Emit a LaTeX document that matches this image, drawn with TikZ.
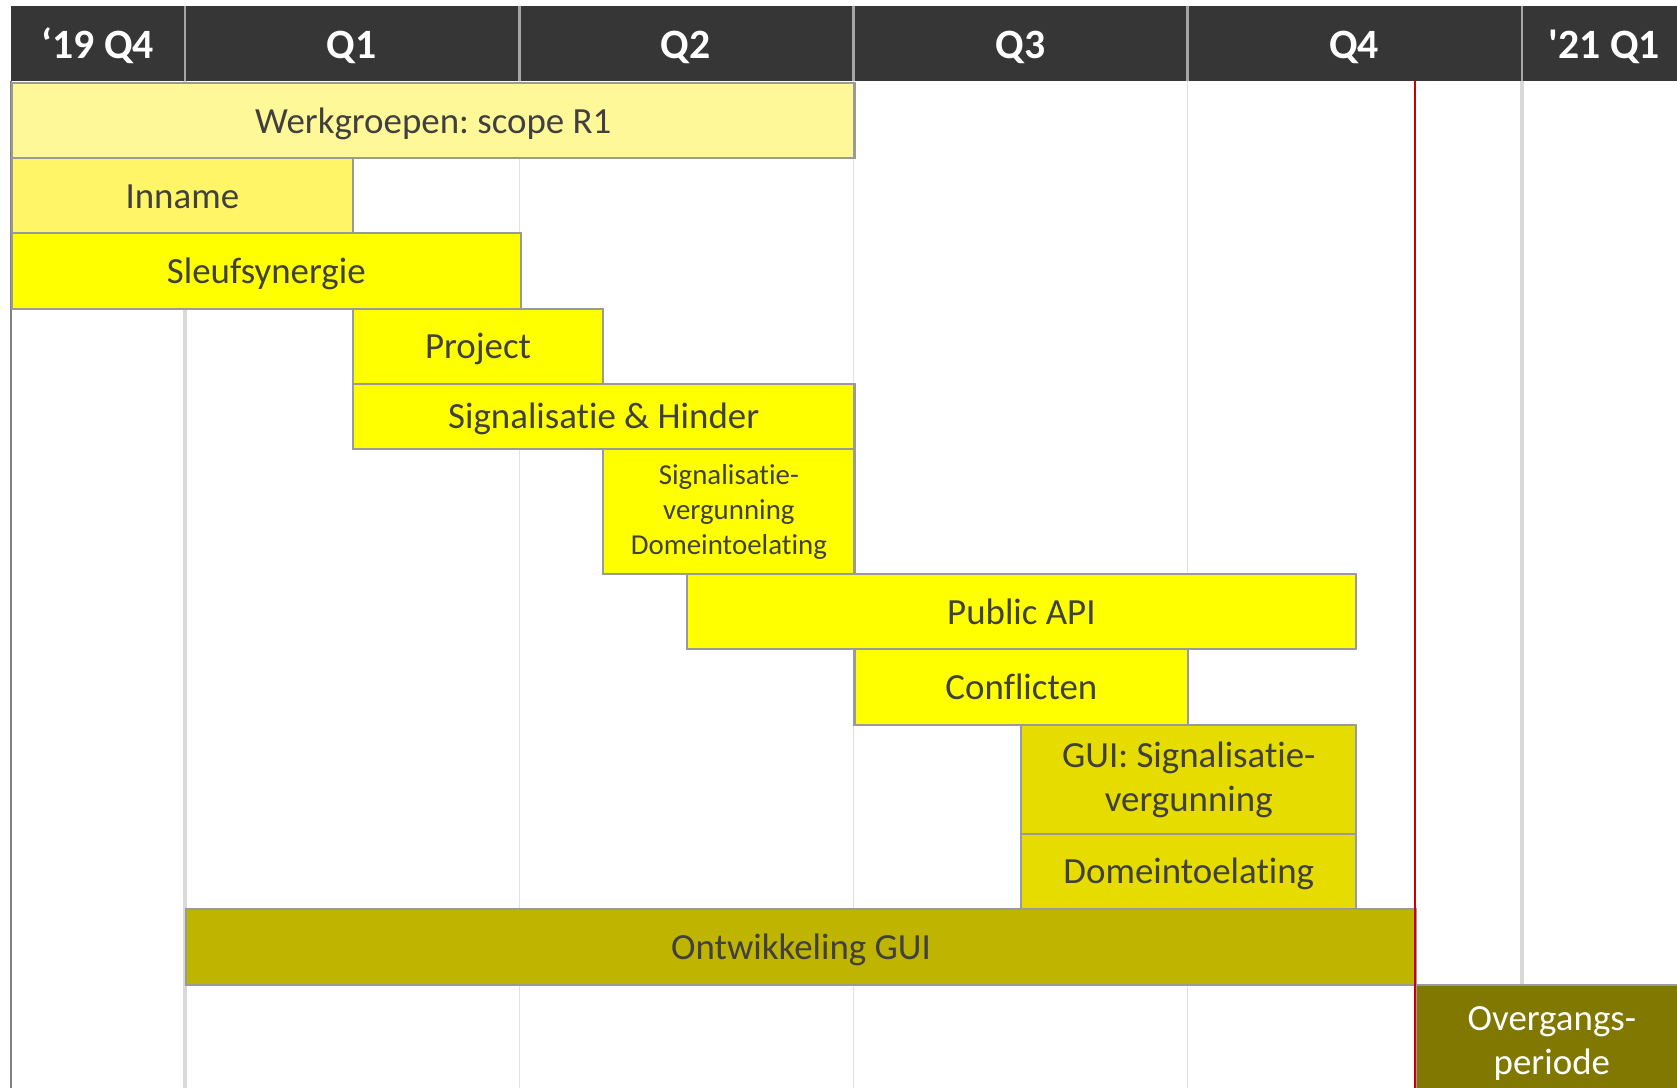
\documentclass[tikz,border=0pt]{standalone}
\usepackage{fontspec}
\setmainfont{Carlito}[Ligatures={TeX,NoCommon,NoContextual},Contextuals={NoAlternate}]
\frenchspacing
\definecolor{hdr}{HTML}{363636}
\definecolor{txt}{HTML}{404040}
\definecolor{yla}{HTML}{FFF899}
\definecolor{ylb}{HTML}{FFF566}
\definecolor{ylc}{HTML}{FFFF00}
\definecolor{yld}{HTML}{E6DC00}
\definecolor{ola}{HTML}{BFB400}
\definecolor{olb}{HTML}{807800}
\definecolor{edgec}{HTML}{9A9A9A}
\definecolor{gridc}{HTML}{D9D9D9}
\definecolor{hdrdivc}{HTML}{A6A6A6}
\definecolor{redl}{HTML}{C80000}
\begin{document}
\begin{tikzpicture}[x=1pt,y=-1pt,
  taskbar/.style={draw=edgec, line width=2pt, inner sep=0pt, anchor=north west,
    text=txt, font=\fontsize{34.5}{41}\selectfont, align=center},
  oneline/.style={text height=23pt, text depth=0pt},
  smalltxt/.style={font=\fontsize{27}{33}\selectfont},
  hdrtxt/.style={text=white, font=\bfseries\fontsize{39}{44}\selectfont, inner sep=0pt, anchor=base},
  hdrdiv/.style={draw=hdrdivc, line width=2.5pt},
  gridthick/.style={draw=gridc, line width=3pt},
  gridthin/.style={draw=gridc!80, line width=1.2pt},
  leftborder/.style={draw=black!50, line width=2pt},
  todayline/.style={draw=redl, line width=2.5pt}
]
\useasboundingbox (0,0) rectangle (1568,1017);
\clip (0,0) rectangle (1568,1017);
\fill[white] (0,0) rectangle (1568,1017);

% header
\fill[hdr] (10,6) rectangle (1580,76);
\foreach \xx in {173,486,798,1110,1423} \draw[hdrdiv] (\xx,6) -- (\xx,76);
\node[hdrtxt] (h0) at (91.5,55) {‘19 Q4};
\node[hdrtxt] (h1) at (329,55) {Q1};
\node[hdrtxt] (h2) at (641,55) {Q2};
\node[hdrtxt] (h3) at (954,55) {Q3};
\node[hdrtxt] (h4) at (1266,55) {Q4};
\node[hdrtxt] (h5) at (1500,55) {\textquotesingle 21 Q1};

% grid
\draw[gridthick] (173,76) -- (173,1017);
\draw[gridthin] (486,76) -- (486,1017);
\draw[gridthin] (798,76) -- (798,1017);
\draw[gridthin] (1110,76) -- (1110,1017);
\draw[gridthick] (1423,76) -- (1423,920);
\draw[leftborder] (10,76) -- (10,1017);

% tasks
\node[taskbar, oneline, fill=yla, minimum width=788pt, minimum height=70pt] (werk) at (10,77) {Werkgroepen: scope R1};
\node[taskbar, oneline, fill=ylb, minimum width=319pt, minimum height=70pt] (inname) at (10,147) {Inname};
\node[taskbar, oneline, fill=ylc, minimum width=476pt, minimum height=71pt] (sleuf) at (10,217) {Sleufsynergie};
\node[taskbar, oneline, fill=ylc, minimum width=234pt, minimum height=70pt] (project) at (329,288) {Project};
\node[taskbar, oneline, fill=ylc, minimum width=469pt, minimum height=61pt] (sighin) at (329,358) {Signalisatie \& Hinder};
\node[taskbar, smalltxt, fill=ylc, minimum width=235pt, minimum height=117pt] (sigvg) at (563,419) {Signalisatie-\\vergunning\\Domeintoelating};
\node[taskbar, oneline, fill=ylc, minimum width=626pt, minimum height=70pt] (papi) at (641,536) {Public API};
\node[taskbar, oneline, fill=ylc, minimum width=312pt, minimum height=71pt] (confl) at (798,606) {Conflicten};
\node[taskbar, fill=yld, minimum width=313pt, minimum height=102pt] (guisig) at (954,677) {GUI: Signalisatie-\\vergunning};
\node[taskbar, oneline, fill=yld, minimum width=313pt, minimum height=70pt] (domein) at (954,779) {Domeintoelating};
\node[taskbar, oneline, fill=ola, minimum width=1150pt, minimum height=71pt] (ontw) at (173,849) {Ontwikkeling GUI};
\node[taskbar, fill=olb, text=white, minimum width=254pt, minimum height=110pt] (overg) at (1323,920) {Overgangs-\\periode};

% today line
\draw[todayline] (1323,76) -- (1323,1017);
\end{tikzpicture}
\end{document}
